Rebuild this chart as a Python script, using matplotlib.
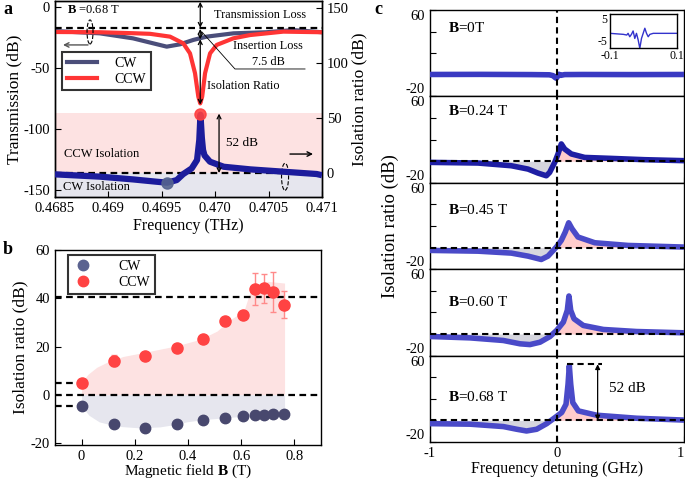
import numpy as np
import matplotlib
matplotlib.use('Agg')
import matplotlib.pyplot as plt
from matplotlib.patches import Ellipse, Rectangle
from matplotlib.lines import Line2D
import matplotlib.transforms as mtrans

plt.rcParams['font.family'] = ['Liberation Serif', 'DejaVu Serif']
plt.rcParams['mathtext.fontset'] = 'custom'
plt.rcParams['mathtext.rm'] = 'Liberation Serif'
plt.rcParams['mathtext.bf'] = 'Liberation Serif:bold'
plt.rcParams['xtick.direction'] = 'in'
plt.rcParams['ytick.direction'] = 'in'
plt.rcParams['axes.linewidth'] = 1.0
plt.rcParams['axes.unicode_minus'] = False

# ---------------- data: panel a ----------------
a_xticks = [0.4685, 0.469, 0.4695, 0.470, 0.4705, 0.471]
a_xticklabels = ['0.4685', '0.469', '0.4695', '0.470', '0.4705', '0.471']
a_left_ticks = [0, -50, -100, -150]
a_right_ticks = [0, 50, 100, 150]

cw_freq = [0.4685, 0.46892, 0.46923, 0.46942, 0.469546, 0.46967, 0.469795,
           0.46992, 0.47017, 0.47048, 0.47073, 0.471]
cw_trans = [-19.7, -21.6, -25.7, -29.8, -32.5, -30.6, -27.0, -24.3, -21.6,
            -20.7, -18.9, -20.7]
ccw_freq = [0.4685, 0.46892, 0.46923, 0.46939, 0.469577, 0.469701, 0.469764,
            0.469811, 0.469842, 0.46986, 0.469878, 0.469905, 0.469952,
            0.470014, 0.470169, 0.470326, 0.470638, 0.471]
ccw_trans = [-20.5, -20.7, -21.5, -22.0, -24.3, -29.8, -38.0, -54.3, -73.5,
             -79.0, -73.5, -54.3, -38.0, -31.1, -25.7, -23.0, -20.2, -20.7]
iso_freq = [0.4685, 0.46892, 0.46923, 0.46945, 0.46955, 0.46964, 0.46970,
            0.46978, 0.46983, 0.469851, 0.469862, 0.469875, 0.469886, 0.46990,
            0.469951, 0.47008, 0.47033, 0.47064, 0.47095, 0.471]
iso_ratio = [-1.2, -3.3, -5.8, -7.9, -8.8, -6.4, -1.0, 4.2, 11.8, 30.0, 53.0,
             32.0, 21.0, 16.0, 10.3, 5.7, 3.3, 1.2, -0.9, -2.0]
iso_max_freq, iso_max_val = 0.46986, 54.0
iso_min_freq, iso_min_val = 0.46955, -8.8
trans_ref_level = -17.0
insertion_level = -26.5
ccw_min_level = -79.0

# ---------------- data: panel b ----------------
b_field = [0, 0.12, 0.24, 0.36, 0.455, 0.54, 0.605, 0.65, 0.685, 0.72, 0.76]
b_ccw = [4.9, 14.1, 15.9, 19.5, 23.2, 30.7, 33.2, 43.8, 44.2, 42.6, 37.4]
b_ccw_err = [1.0, 2.3, 1.0, 1.0, 1.0, 1.7, 1.2, 6.7, 6.0, 8.2, 5.5]
b_cw = [-4.8, -12.3, -13.7, -11.9, -10.3, -9.5, -8.9, -8.5, -8.2, -8.1, -7.8]
b_cw_err = [0.9] * 11
b_env_x = [0, 0.025, 0.057, 0.107, 0.157, 0.232, 0.358, 0.446, 0.509, 0.56,
           0.61, 0.63, 0.65, 0.70, 0.763]
b_env_ccw = [5.2, 8.6, 11.4, 14.1, 15.9, 17.5, 20.3, 23.0, 26.4, 31.2, 34.7,
             41.5, 45.0, 47.0, 46.3]
b_env_cw_x = [0, 0.028, 0.066, 0.13, 0.218, 0.294, 0.357, 0.395, 0.454, 0.54,
              0.605, 0.763]
b_env_cw = [-4.8, -8.5, -11.2, -13.0, -13.7, -13.3, -12.2, -11.2, -10.3,
            -9.5, -8.9, -7.8]
b_ref_levels = [40.5, 5.0, 0.0, -4.8]

# ---------------- data: panel c ----------------
c_labels = ['0T', '0.24 T', '0.45 T', '0.60 T', '0.68 T']
c_x = [
    [-1, -0.6, -0.2, -0.06, -0.03, -0.015, -0.005, 0.005, 0.015, 0.03, 0.06,
     0.2, 0.6, 1],
    [-1.0, -0.622, -0.36, -0.228, -0.15, -0.084, -0.058, -0.018, 0.008, 0.034,
     0.06, 0.113, 0.218, 0.428, 0.69, 1.0],
    [-1.0, -0.622, -0.36, -0.228, -0.124, -0.071, -0.005, 0.034, 0.065, 0.092,
     0.118, 0.165, 0.297, 0.56, 1.0],
    [-1.0, -0.685, -0.423, -0.29, -0.213, -0.134, -0.055, -0.003, 0.05, 0.081,
     0.094, 0.108, 0.134, 0.207, 0.365, 0.627, 1.0],
    [-1.0, -0.685, -0.423, -0.317, -0.24, -0.16, -0.081, -0.016, 0.037, 0.071,
     0.087, 0.097, 0.108, 0.124, 0.168, 0.312, 0.627, 1.0],
]
c_y = [
    [0.3, 0.4, 0.2, 0.0, -0.8, -2.5, -3.2, -1.5, 0.5, -0.5, 0.2, 0.3, 0.2, 0.3],
    [-1.1, -1.7, -4.2, -7.3, -11.0, -13.5, -10.4, -1.1, 6.7, 16.0, 11.3, 6.7,
     3.5, 2.6, 1.4, 0.5],
    [-2.6, -3.3, -5.1, -7.9, -11.0, -7.9, 0.5, 6.7, 14.4, 23.0, 17.5, 9.8, 4.5,
     2.0, 0.5],
    [-2.3, -3.6, -6.0, -9.1, -9.8, -7.6, -2.3, 3.3, 11.0, 21.9, 35.2, 21.9,
     14.1, 7.9, 4.2, 2.3, 1.1],
    [-3.0, -3.5, -5.7, -8.2, -9.8, -8.2, -3.0, 2.6, 7.3, 15.0, 33.7, 50.7,
     33.7, 16.6, 8.8, 4.8, 2.0, 0.3],
]
c_peak_label = 52
inset_x = [-0.1, -0.06, -0.05, -0.046, -0.041, -0.036, -0.031, -0.026, -0.021,
           -0.016, -0.011, -0.006, -0.001, 0.004, 0.009, 0.014, 0.019, 0.029,
           0.1]
inset_y = [-0.6, -0.9, -1.1, -0.6, -1.6, -0.9, 0.1, -2.1, -0.6, -2.5, -5.0,
           -2.1, -0.6, 0.9, -0.6, -1.6, -0.9, -0.6, -0.6]

# ---------------- figure ----------------
W, H = 685, 484
fig = plt.figure(figsize=(6.85, 4.84), dpi=100)


def rect(l, t, r, b):
    return [l / W, 1 - b / H, (r - l) / W, (b - t) / H]


DASH = (0, (3, 2))
PINK = '#fde2e2'
LAV = '#e6e6ee'
TICK_FS = 10.5
LAB_FS = 11.5
YLAB_FS = 12.5

# ================= panel a =================
axA = fig.add_axes(rect(55, 1, 322, 197))
axAr = axA.twinx()
axA.set_xlim(0.4685, 0.471)
axA.set_ylim(-155.7, 4.9)
axAr.set_ylim(-21.8, 156.4)
blend = mtrans.blended_transform_factory(axA.transAxes, axAr.transData)
axA.add_patch(Rectangle((0, 0), 1, 55, transform=blend, color=PINK, lw=0, zorder=0))
axA.add_patch(Rectangle((0, -21.8), 1, 21.8, transform=blend, color=LAV, lw=0, zorder=0))

l_cw, = axA.plot(cw_freq, cw_trans, color='#4b4e7a', lw=3, label='CW', zorder=3)
l_ccw, = axA.plot(ccw_freq, ccw_trans, color='#ff3535', lw=3, label='CCW', zorder=4)
axA.axhline(trans_ref_level, color='k', ls=DASH, lw=1.6, zorder=5)

axAr.axhline(0, color='k', ls=DASH, lw=1.6, zorder=2)
axAr.plot(iso_freq, iso_ratio, color='#1c1c9c', lw=4.5, zorder=3, solid_capstyle='butt')
axAr.plot([iso_max_freq], [iso_max_val], 'o', color='#ff4040', ms=8, alpha=0.9, zorder=4)
axAr.plot([iso_min_freq], [iso_min_val], 'o', color='#55648f', ms=8, alpha=0.9, zorder=4)

axA.set_xticks(a_xticks)
axA.set_xticklabels(a_xticklabels)
axA.set_yticks(a_left_ticks)
axAr.set_yticks(a_right_ticks)
axA.tick_params(labelsize=TICK_FS, length=4)
axAr.tick_params(labelsize=TICK_FS, length=4, direction='in')
axA.set_xlabel('Frequency (THz)', fontsize=LAB_FS, labelpad=2)
axA.set_ylabel('Transmission (dB)', fontsize=YLAB_FS, labelpad=1)
axAr.set_ylabel('Isolation ratio (dB)', fontsize=YLAB_FS, labelpad=2)

# arrows & annotations (left-axis coords)
xp = iso_max_freq
arr = dict(arrowstyle='<->', lw=0.9, color='k', shrinkA=0, shrinkB=0,
           mutation_scale=7)
axA.annotate('', xy=(xp, 4.2), xytext=(xp, trans_ref_level), arrowprops=arr, zorder=6)
axA.annotate('', xy=(xp, trans_ref_level - 1), xytext=(xp, insertion_level),
             arrowprops=arr, zorder=6)
axA.annotate('', xy=(xp, insertion_level), xytext=(xp, ccw_min_level - 1),
             arrowprops=arr, zorder=6)
axA.plot([0.469876, 0.470185, 0.470841], [-20.5, -50.8, -50.8], color='k', lw=0.6, zorder=6)
axA.text(0.470419, -6.6, 'Transmission Loss', fontsize=8.8, ha='center', va='center')
axA.text(0.470494, -32, 'Insertion Loss', fontsize=8.8, ha='center', va='center')
axA.text(0.470497, -44.8, '7.5 dB', fontsize=8.8, ha='center', va='center')
axA.text(0.47026, -64.8, 'Isolation Ratio', fontsize=8.8, ha='center', va='center')
axA.text(0.468612, -2.8, r'$\mathbf{B}$ =0.68 T', fontsize=9, ha='left', va='center')
axA.add_patch(Ellipse((0.468828, -20.5), 0.000056, 19.7, fill=False, ls='--',
                      lw=0.8, ec='k', zorder=6))
axA.annotate('', xy=(0.468575, -31.1), xytext=(0.468809, -31.1),
             arrowprops=dict(arrowstyle='->', lw=1.0, color='#555555',
                             shrinkA=0, shrinkB=0, mutation_scale=8))
axA.add_patch(Ellipse((0.470654, -139.1), 0.000066, 22.1, fill=False, ls='--',
                      lw=0.8, ec='k', zorder=6))
axA.annotate('', xy=(0.470916, -120.5), xytext=(0.4707, -120.5),
             arrowprops=dict(arrowstyle='->', lw=1.0, color='k',
                             shrinkA=0, shrinkB=0, mutation_scale=8))
axAr.annotate('', xy=(0.470036, 54), xytext=(0.470036, 0), arrowprops=arr, zorder=6)
axAr.text(0.470248, 27.5, '52 dB', fontsize=9.5, ha='center', va='center')
axAr.text(0.468937, 17, 'CCW Isolation', fontsize=9, ha='center', va='center')
axAr.text(0.46889, -13, 'CW Isolation', fontsize=9, ha='center', va='center')

legA = axA.legend(handles=[l_cw, l_ccw], loc='upper left', bbox_to_anchor=(0.026, 0.74),
                  frameon=True, fancybox=False, edgecolor='k', fontsize=10,
                  handlelength=2.2, borderpad=0.35, labelspacing=0.2,
                  handletextpad=1.2, borderaxespad=0)
legA.get_frame().set_linewidth(1.5)
legA.set_zorder(10)

# ================= panel b =================
axB = fig.add_axes(rect(55, 250, 321, 445))
axB.set_xlim(-0.1, 0.9)
axB.set_ylim(-20.8, 60)
axB.fill_between(b_env_x, b_env_ccw, 0, color=PINK, lw=0, zorder=0)
axB.fill_between(b_env_cw_x, b_env_cw, 0, color=LAV, lw=0, zorder=0)
axB.axhline(b_ref_levels[0], color='k', ls=DASH, lw=1.6, zorder=1)
axB.axhline(b_ref_levels[2], color='k', ls=DASH, lw=1.6, zorder=1)
axB.plot([-0.1, 0], [b_ref_levels[1]] * 2, color='k', ls=DASH, lw=1.6, zorder=1)
axB.plot([-0.1, 0], [b_ref_levels[3]] * 2, color='k', ls=DASH, lw=1.6, zorder=1)
axB.errorbar(b_field, b_ccw, yerr=b_ccw_err, fmt='o', color='#ff4343', ms=8,
             ecolor='#ff8a8a', elinewidth=1, capsize=2.5, zorder=3)
axB.errorbar(b_field, b_cw, yerr=b_cw_err, fmt='o', color='#48486e', ms=7.5,
             ecolor='#22223a', elinewidth=0.8, capsize=2.5, zorder=3)
axB.set_xticks([0, 0.2, 0.4, 0.6, 0.8])
axB.set_xticklabels(['0', '0.2', '0.4', '0.6', '0.8'])
axB.set_yticks([-20, 0, 20, 40, 60])
axB.tick_params(labelsize=TICK_FS, length=4)
axB.set_xlabel(r'Magnetic field $\mathbf{B}$ (T)', fontsize=11, labelpad=0)
axB.set_ylabel('Isolation ratio (dB)', fontsize=YLAB_FS, labelpad=2)
hB = [Line2D([], [], ls='', marker='o', color='#5b6390', ms=7.5),
      Line2D([], [], ls='', marker='o', color='#ff4343', ms=7.5)]
legB = axB.legend(hB, ['CW', 'CCW'], loc='upper left', bbox_to_anchor=(0.049, 0.975),
                  frameon=True, fancybox=False, edgecolor='k', fontsize=10,
                  handlelength=1.5, borderpad=0.35, labelspacing=0.25,
                  handletextpad=1.8, borderaxespad=0)
legB.get_frame().set_linewidth(1.5)

# ================= panel c =================
top, bot = 10, 442
ph = (bot - top) / 5
c_colors = ['#3a3ac2', '#1e1ea4', '#4a4ac8', '#4a4ac8', '#4a4ac8']
c_text_y = [0.79, 0.83, 0.69, 0.615, 0.52]
axes_c = []
for i in range(5):
    ax = fig.add_axes(rect(430, top + i * ph, 684, top + (i + 1) * ph))
    axes_c.append(ax)
    ax.set_xlim(-1, 1)
    ax.set_ylim(-20, 60)
    x = np.array(c_x[i])
    y = np.array(c_y[i])
    if i > 0:
        ax.fill_between(x, y, 0, where=y < 0, interpolate=True, color='#d6d6de', lw=0, zorder=1)
        ax.fill_between(x, y, 0, where=y > 0, interpolate=True, color='#ffcccc', lw=0, zorder=1)
        ax.axhline(0, color='k', ls=DASH, lw=1.5, zorder=4)
    ax.plot(x, y, color=c_colors[i], lw=4, zorder=3, solid_joinstyle='round')
    ax.axvline(0, color='k', ls=DASH, lw=1.5, zorder=5)
    ax.set_yticks([-20, 0, 20, 40, 60])
    ax.set_yticklabels(['-20', '', '', '', '60'])
    ax.set_xticks([-1, 0, 1])
    ax.tick_params(labelsize=TICK_FS, length=4)
    yt = ax.yaxis.get_major_ticks()
    yt[0].label1.set_verticalalignment('bottom')
    yt[-1].label1.set_verticalalignment('top')
    if i < 4:
        ax.tick_params(labelbottom=False)
    ax.text(0.071, c_text_y[i], r'$\mathbf{B}$=' + c_labels[i], transform=ax.transAxes,
            fontsize=11, ha='left', va='center')

ax5 = axes_c[4]
ax5.set_xticklabels(['-1', '0', '1'])
ax5.xaxis.get_major_ticks()[-1].label1.set_horizontalalignment('right')
ax5.plot([0.076, 0.352], [c_peak_label, c_peak_label], color='k', ls=DASH, lw=1.5, zorder=5)
ax5.annotate('', xy=(0.32, c_peak_label), xytext=(0.32, 0),
             arrowprops=dict(arrowstyle='<|-|>', lw=0.9, color='k', shrinkA=0,
                             shrinkB=0, mutation_scale=7), zorder=6)
ax5.text(0.41, 29.3, '52 dB', fontsize=11, ha='left', va='center')
ax5.set_xlabel('Frequency detuning (GHz)', fontsize=LAB_FS, labelpad=1)
fig.text(390 / W, 1 - 226 / H, 'Isolation ratio (dB)', rotation=90, ha='center',
         va='center', fontsize=YLAB_FS + 1)

# inset
axI = fig.add_axes(rect(610, 14.3, 677, 48.3))
axI.plot(inset_x, inset_y, color='#3333cc', lw=1)
axI.set_xlim(-0.1, 0.1)
axI.set_ylim(-5, 5)
axI.set_xticks([-0.1, 0.1])
axI.set_xticklabels(['-0.1', '0.1'])
axI.set_yticks([-5, 5])
axI.set_yticklabels(['-5', '5'])
axI.tick_params(labelsize=8.5, length=0, pad=1)
axI.yaxis.get_major_ticks()[0].label1.set_verticalalignment('bottom')
axI.yaxis.get_major_ticks()[-1].label1.set_verticalalignment('top')
axI.tick_params(axis='y', pad=2)

# panel letters
fig.text(3 / W, 1 - 10 / H, 'a', fontsize=13, fontweight='bold', va='center')
fig.text(3 / W, 1 - 250 / H, 'b', fontsize=13, fontweight='bold', va='center')
fig.text(374 / W, 1 - 10 / H, 'c', fontsize=13, fontweight='bold', va='center')

fig.savefig('out.png', dpi=100)
